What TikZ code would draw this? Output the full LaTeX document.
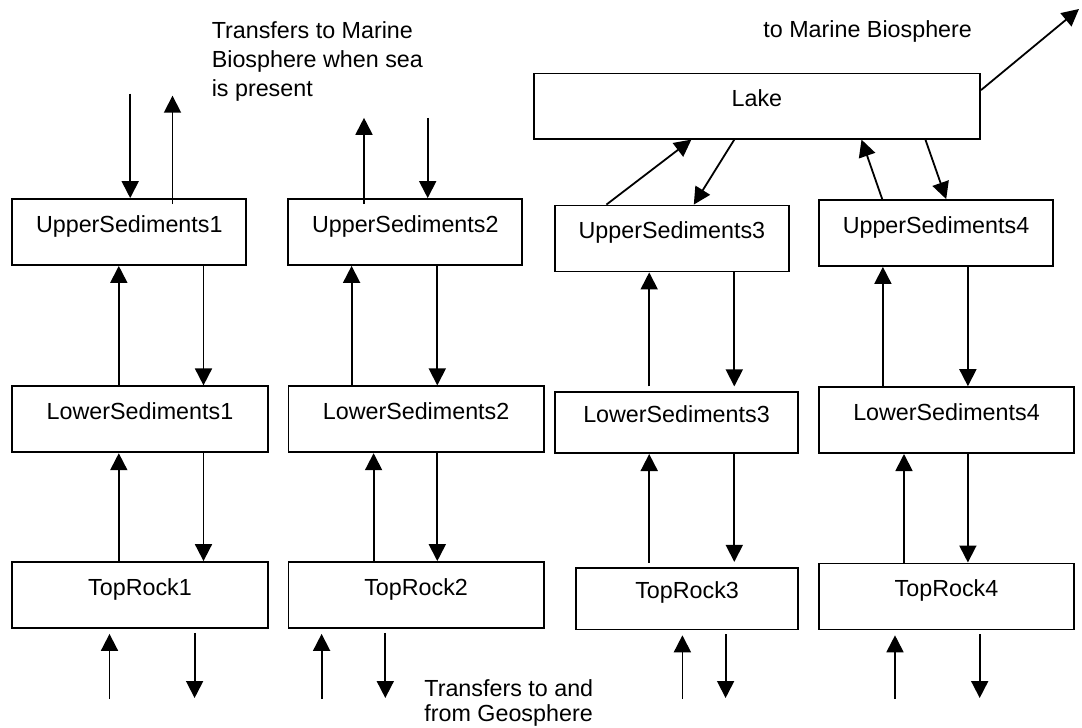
\documentclass[tikz,border=0pt]{standalone}
\usepackage{fontspec}
\setmainfont{Liberation Sans}
\usepackage{tikz}
\usetikzlibrary{arrows.meta}

\begin{document}
\begin{tikzpicture}[x=0.5pt,y=-0.5pt,font=\fontsize{11.65}{14.5}\selectfont,
  cell/.style={draw,line width=0.9pt,minimum width=117pt,minimum height=33pt,text height=9pt,text depth=9pt,inner sep=0pt},
  wide/.style={cell,minimum width=127.7pt},
  arr/.style={-{Triangle[length=8.5pt,width=8.5pt]},line width=0.9pt},
  note/.style={align=left,inner sep=0pt}]
\useasboundingbox (0,0) rectangle (1082,728);
% compartments
\node[cell] (us1) at (129.3,232) {UpperSediments1};
\node[cell] (us2) at (405.3,232) {UpperSediments2};
\node[cell] (us3) at (671.9,238.5) {UpperSediments3};
\node[cell] (us4) at (936,233) {UpperSediments4};
\node[wide] (ls1) at (140,419.3) {LowerSediments1};
\node[wide] (ls2) at (416.1,419.3) {LowerSediments2};
\node[cell,minimum width=121.6pt,minimum height=30.4pt] (ls3) at (676.5,422.7) {LowerSediments3};
\node[wide] (ls4) at (946.5,420.1) {LowerSediments4};
\node[wide] (tr1) at (140,595) {TopRock1};
\node[wide] (tr2) at (416.1,595) {TopRock2};
\node[cell,minimum width=111.1pt,minimum height=30.8pt] (tr3) at (687.1,598.6) {TopRock3};
\node[wide] (tr4) at (946.5,596.4) {TopRock4};
\node[cell,minimum width=223.2pt,minimum height=32.6pt] (lake) at (756.9,106.1) {Lake};
% labels
\node[note,anchor=north west] (seanote) at (211.4,21) {Transfers to Marine\\Biosphere when sea\\is present};
\node[note,anchor=base west] (marinenote) at (763,38) {to Marine Biosphere};
\node[note,anchor=north west,font=\fontsize{11.65}{12.5}\selectfont] (geonote) at (424,679) {Transfers to and\\from Geosphere};
% free ends
\coordinate (s1d) at (130.2,93.7);
\coordinate (s1u) at (172.5,95.7);
\coordinate (s2u) at (364,117.8);
\coordinate (s2d) at (427.7,117.8);
\coordinate (marine) at (1079,9);
\coordinate (g1u) at (109.5,699);
\coordinate (g1d) at (194.6,698);
\coordinate (g2u) at (321.6,699);
\coordinate (g2d) at (385.3,698);
\coordinate (g3u) at (682.4,699);
\coordinate (g3d) at (725.6,698);
\coordinate (g4u) at (895,699);
\coordinate (g4d) at (979.7,698);
% sea
\draw[arr] (s1d) -- (s1d |- us1.north);
\draw[arr,shorten <=-3pt] (s1u |- us1.north) -- (s1u);
\draw[arr,shorten <=-3pt] (s2u |- us2.north) -- (s2u);
\draw[arr] (s2d) -- (s2d |- us2.north);
% lake
\draw[arr] ([yshift=8pt]lake.east) -- (marine);
\draw[arr] (us3.north -| 606.4,0) -- (lake.south -| 691.4,0);
\draw[arr] (lake.south -| 734.3,0) -- (us3.north -| 693.8,0);
\draw[arr] (us4.north -| 882.2,0) -- (lake.south -| 861.5,0);
\draw[arr] (lake.south -| 925.4,0) -- (us4.north -| 946.2,0);
% column 1
\draw[arr] (ls1.north -| 118.8,0) -- (us1.south -| 118.8,0);
\draw[arr] (us1.south -| 203.5,0) -- (ls1.north -| 203.5,0);
\draw[arr] (tr1.north -| 118.8,0) -- (ls1.south -| 118.8,0);
\draw[arr] (ls1.south -| 203.5,0) -- (tr1.north -| 203.5,0);
% column 2
\draw[arr] (ls2.north -| 351.6,0) -- (us2.south -| 351.6,0);
\draw[arr] (us2.south -| 437.3,0) -- (ls2.north -| 437.3,0);
\draw[arr] (tr2.north -| 373.6,0) -- (ls2.south -| 373.6,0);
\draw[arr] (ls2.south -| 437.3,0) -- (tr2.north -| 437.3,0);
% column 3
\draw[arr,shorten <=2.5pt] (ls3.north -| 649.2,0) -- (us3.south -| 649.2,0);
\draw[arr,shorten >=2.5pt] (us3.south -| 734.3,0) -- (ls3.north -| 734.3,0);
\draw[arr,shorten <=2pt] (tr3.north -| 649.2,0) -- (ls3.south -| 649.2,0);
\draw[arr,shorten >=2.5pt] (ls3.south -| 734.3,0) -- (tr3.north -| 734.3,0);
% column 4
\draw[arr] (ls4.north -| 882.9,0) -- (us4.south -| 882.9,0);
\draw[arr] (us4.south -| 967.9,0) -- (ls4.north -| 967.9,0);
\draw[arr] (tr4.north -| 904,0) -- (ls4.south -| 904,0);
\draw[arr] (ls4.south -| 967.9,0) -- (tr4.north -| 967.9,0);
% geosphere
\draw[arr,shorten >=2.5pt] (g1u) -- (g1u |- tr1.south);
\draw[arr,shorten <=2pt] (g1d |- tr1.south) -- (g1d);
\draw[arr,shorten >=2.5pt] (g2u) -- (g2u |- tr2.south);
\draw[arr,shorten <=2pt] (g2d |- tr2.south) -- (g2d);
\draw[arr,shorten >=2.5pt] (g3u) -- (g3u |- tr3.south);
\draw[arr,shorten <=2pt] (g3d |- tr3.south) -- (g3d);
\draw[arr,shorten >=2.5pt] (g4u) -- (g4u |- tr4.south);
\draw[arr,shorten <=2pt] (g4d |- tr4.south) -- (g4d);
\end{tikzpicture}
\end{document}
